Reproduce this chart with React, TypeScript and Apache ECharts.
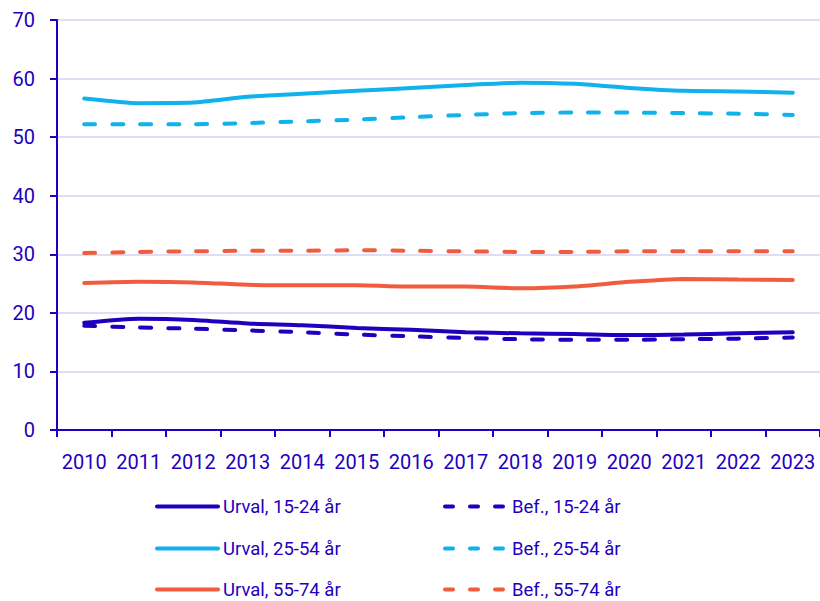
import React, { useEffect, useRef } from "react";
import * as echarts from "echarts";

const years = ["2010","2011","2012","2013","2014","2015","2016","2017","2018","2019","2020","2021","2022","2023"];
const urval1524 = [18.3, 19.0, 18.8, 18.2, 17.9, 17.4, 17.1, 16.7, 16.5, 16.4, 16.2, 16.3, 16.5, 16.7];
const bef1524 = [17.8, 17.5, 17.3, 17.0, 16.7, 16.3, 16.0, 15.7, 15.5, 15.4, 15.4, 15.5, 15.6, 15.8];
const urval2554 = [56.6, 55.8, 55.9, 56.9, 57.4, 57.9, 58.4, 58.9, 59.3, 59.1, 58.4, 57.9, 57.8, 57.6];
const bef2554 = [52.2, 52.2, 52.2, 52.4, 52.7, 53.0, 53.4, 53.8, 54.1, 54.2, 54.2, 54.1, 54.0, 53.8];
const urval5574 = [25.1, 25.3, 25.2, 24.8, 24.7, 24.7, 24.5, 24.5, 24.2, 24.5, 25.3, 25.8, 25.7, 25.6];
const bef5574 = [30.2, 30.4, 30.5, 30.6, 30.6, 30.7, 30.6, 30.5, 30.4, 30.4, 30.5, 30.5, 30.5, 30.5];

const names = [
  "Urval, 15-24 år", "Bef., 15-24 år",
  "Urval, 25-54 år", "Bef., 25-54 år",
  "Urval, 55-74 år", "Bef., 55-74 år",
];

const DARK = "#1e00be";
const LIGHT = "#0fb2ea";
const ORANGE = "#f05d3e";
const FONT = "Roboto";

export default function App() {
  const ref = useRef<HTMLDivElement>(null);
  useEffect(() => {
    if (!ref.current) return;
    const chart = echarts.init(ref.current, null, { renderer: "svg" });
    const mk = (name: string, data: number[], color: string, dashed: boolean) => ({
      name,
      type: "line",
      data,
      symbol: "none",
      showSymbol: false,
      smooth: 0.2,
      lineStyle: {
        color,
        width: 4,
        type: dashed ? [11, 17] : "solid",
        cap: "round",
      },
      itemStyle: { color },
    });
    const legendText = { color: DARK, fontSize: 18.5, fontFamily: FONT };
    const rowCenters = [506, 548, 589];
    const legends = names.map((name, i) => {
      const dashed = i % 2 === 1;
      const row = Math.floor(i / 2);
      return {
        orient: "horizontal",
        left: dashed ? 443 : 155,
        top: rowCenters[row] - 9,
        padding: 0,
        itemWidth: dashed ? 62 : 61,
        itemHeight: 14,
        itemStyle: { opacity: 0 },
        textStyle: legendText,
        data: [
          {
            name,
            lineStyle: dashed ? { type: [8, 17], cap: "round", width: 4 } : { width: 4 },
          },
        ],
      };
    });
    chart.setOption({
      animation: false,
      textStyle: { fontFamily: FONT },
      grid: { left: 57, right: 0, top: 20, bottom: 171, containLabel: false },
      legend: legends,
      xAxis: {
        type: "category",
        data: years,
        boundaryGap: true,
        axisLine: { lineStyle: { color: DARK, width: 2 } },
        axisTick: { show: true, length: 7, lineStyle: { color: DARK, width: 2 } },
        axisLabel: { color: DARK, fontSize: 20, margin: 22, fontFamily: FONT, interval: 0 },
      },
      yAxis: {
        type: "value",
        min: 0,
        max: 70,
        interval: 10,
        axisLine: { show: true, lineStyle: { color: DARK, width: 2 } },
        axisTick: { show: true, length: 7, lineStyle: { color: DARK, width: 2 } },
        axisLabel: { color: DARK, fontSize: 20, margin: 22, fontFamily: FONT },
        splitLine: { lineStyle: { color: "#d3d3f0", width: 1.5 } },
      },
      series: [
        mk(names[0], urval1524, DARK, false),
        mk(names[1], bef1524, DARK, true),
        mk(names[2], urval2554, LIGHT, false),
        mk(names[3], bef2554, LIGHT, true),
        mk(names[4], urval5574, ORANGE, false),
        mk(names[5], bef5574, ORANGE, true),
      ],
    });
    return () => chart.dispose();
  }, []);
  return (
    <div
      ref={ref}
      style={{ position: "fixed", left: 0, top: 0, width: 820, height: 601, background: "#fff" }}
    />
  );
}
